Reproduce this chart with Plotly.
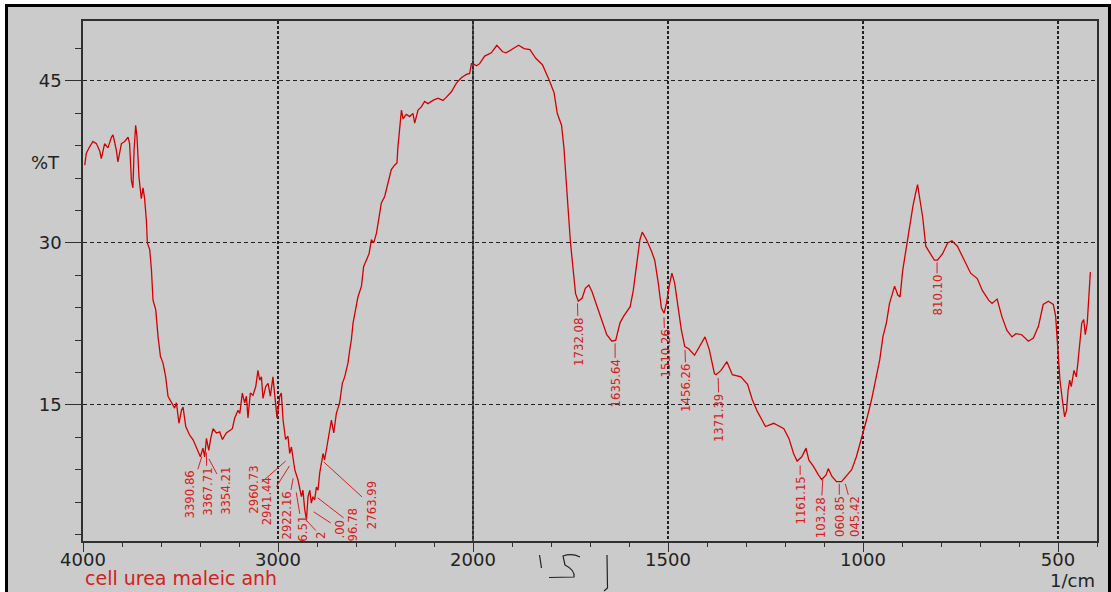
import plotly.graph_objects as go

# ---------------- data ----------------
wavenumber = [
    3991, 3983, 3966, 3949, 3931, 3914, 3906, 3889, 3872, 3854, 3846, 3829, 3821, 3803, 3786, 3769,
    3761, 3752, 3744, 3738, 3730, 3723, 3713, 3701, 3692, 3684, 3675, 3670, 3658, 3649, 3641, 3627,
    3615, 3603, 3590, 3576, 3564, 3547, 3530, 3521, 3508, 3495, 3487, 3473, 3453, 3436, 3418, 3398,
    3385, 3376, 3367, 3355, 3345, 3333, 3316, 3299, 3285, 3265, 3234, 3222, 3205, 3196, 3183, 3171,
    3162, 3154, 3142, 3128, 3114, 3103, 3094, 3085, 3077, 3063, 3051, 3039, 3026, 3017, 3005, 2991,
    2983, 2974, 2961, 2949, 2940, 2931, 2914, 2898, 2880, 2872, 2863, 2854, 2846, 2837, 2829, 2821,
    2812, 2803, 2795, 2786, 2777, 2769, 2761, 2752, 2738, 2726, 2714, 2701, 2684, 2670, 2658, 2641,
    2632, 2624, 2615, 2602, 2590, 2572, 2561, 2547, 2533, 2521, 2509, 2495, 2482, 2470, 2453, 2436,
    2419, 2402, 2390, 2385, 2376, 2367, 2359, 2342, 2325, 2308, 2299, 2282, 2265, 2248, 2231, 2205,
    2180, 2154, 2136, 2111, 2085, 2060, 2034, 2017, 2008, 2000,
    1991, 1983, 1970, 1953, 1939, 1924, 1915, 1902, 1883, 1869, 1854, 1839, 1822, 1805, 1792, 1784,
    1773, 1767, 1761, 1756, 1750, 1744, 1737, 1730, 1720, 1712, 1703, 1695, 1682, 1669, 1657, 1644,
    1634, 1623, 1614, 1597, 1589, 1580, 1572, 1566, 1555, 1542, 1534, 1525, 1517, 1510, 1504, 1497,
    1490, 1483, 1474, 1466, 1457, 1447, 1432, 1419, 1405, 1394, 1381, 1377, 1364, 1349, 1335, 1313,
    1296, 1284, 1271, 1250, 1229, 1203, 1190, 1178, 1169, 1157, 1146, 1139, 1127, 1114, 1106, 1095,
    1089, 1080, 1068, 1055, 1042, 1029, 1017, 1004, 991, 978, 966, 957, 949, 940, 932, 925,
    919, 911, 905, 898, 889, 881, 872, 864, 860, 854, 847, 839, 826, 817, 809, 796,
    783, 772, 758, 741, 724, 707, 694, 678, 669, 656, 644, 631, 618, 608, 593, 576,
    563, 550, 538, 525, 512, 506, 501, 495, 489, 483, 478, 474, 470, 466, 459, 453,
    449, 444, 439, 434, 430, 425, 421, 417,
]
transmittance = [
    37.2, 38.3, 38.9, 39.4, 39.2, 38.5, 37.8, 39.2, 38.8, 39.8, 40.0, 38.6, 37.5, 39.2, 39.4, 39.8,
    39.2, 35.8, 35.1, 38.6, 40.9, 39.8, 36.1, 34.1, 35.1, 34.1, 32.1, 30.0, 29.4, 27.5, 24.7, 23.8,
    21.3, 19.5, 18.9, 17.6, 15.8, 15.3, 14.7, 15.2, 13.3, 14.5, 14.8, 13.0, 12.2, 11.8, 11.1, 10.2,
    11.0, 10.2, 11.9, 10.8, 11.9, 12.8, 12.4, 12.5, 11.8, 12.4, 12.8, 13.8, 14.5, 14.2, 16.1, 15.2,
    15.8, 13.8, 16.1, 15.9, 16.7, 18.2, 17.3, 17.6, 15.6, 16.7, 17.0, 15.8, 17.6, 16.1, 13.8, 15.8,
    16.1, 13.6, 11.8, 12.1, 10.5, 11.1, 9.0, 8.1, 6.5, 7.1, 5.3, 4.4, 6.5, 7.1, 5.9, 6.5,
    6.2, 7.4, 7.1, 8.7, 9.9, 10.5, 9.9, 10.8, 12.4, 13.6, 12.4, 14.2, 15.2, 17.0, 17.6, 18.9,
    20.1, 21.0, 22.6, 23.8, 25.0, 26.0, 27.8, 28.4, 29.0, 30.3, 30.0, 30.9, 32.4, 33.7, 34.3, 35.5,
    36.8, 37.2, 37.4, 38.9, 40.5, 42.3, 41.5, 41.9, 41.7, 42.0, 41.1, 42.3, 42.6, 43.1, 42.9, 43.2,
    43.4, 43.2, 43.5, 44.0, 44.8, 45.3, 45.6, 45.7, 46.6, 46.6,
    46.4, 46.6, 47.3, 47.6, 48.3, 47.7, 47.6, 47.9, 48.3, 48.0, 47.9, 47.1, 46.5, 45.1, 43.9, 42.0,
    40.9, 38.9, 36.1, 33.1, 30.0, 27.8, 25.3, 24.6, 24.9, 25.8, 26.1, 25.5, 24.1, 22.6, 21.5, 20.9,
    21.0, 22.6, 23.2, 24.1, 25.6, 28.1, 30.3, 31.0, 30.3, 29.2, 28.4, 26.3, 24.0, 23.5, 24.4, 26.0,
    27.2, 26.3, 24.1, 22.0, 20.4, 20.2, 19.6, 20.4, 21.3, 20.1, 17.9, 17.8, 18.2, 19.0, 17.8, 17.6,
    16.9, 15.5, 14.4, 13.0, 13.3, 12.8, 11.9, 10.5, 9.8, 10.2, 11.0, 9.9, 9.3, 8.5, 8.1, 8.5,
    9.1, 8.4, 7.9, 7.9, 8.4, 9.0, 10.2, 11.8, 13.6, 15.5, 17.6, 19.2, 21.3, 22.6, 24.4, 25.3,
    26.0, 25.2, 25.0, 27.5, 29.7, 31.5, 33.4, 34.8, 35.4, 34.0, 32.4, 29.7, 29.0, 28.4, 28.4, 29.0,
    30.0, 30.2, 29.7, 28.4, 27.2, 26.7, 25.6, 24.7, 24.4, 24.8, 23.2, 21.9, 21.3, 21.6, 21.5, 20.9,
    21.2, 22.3, 24.3, 24.6, 24.3, 23.2, 20.1, 17.3, 15.5, 13.9, 14.5, 16.4, 17.3, 16.7, 18.2, 17.6,
    18.9, 20.7, 22.6, 22.9, 21.5, 22.6, 25.0, 27.3,
]

x_tick_labels = [4000, 3000, 2000, 1500, 1000, 500]
y_tick_labels = [15, 30, 45]

# peak labels: wavenumber, %T where the leader starts, text shown (clipped ones show only their visible end)
peak_wn = [3390.86, 3367.71, 3354.21, 2960.73, 2941.44, 2922.16, 2906.51, 2854.00, 2817.00, 2796.78, 2763.99,
           1732.08, 1635.64, 1510.26, 1456.26, 1371.39, 1161.15, 1103.28, 1060.85, 1045.42, 810.10]
peak_t = [10.2, 10.6, 10.0, 9.8, 9.35, 8.2, 6.9, 4.3, 5.1, 6.4, 9.7,
          24.4, 20.7, 23.1, 20.1, 17.5, 9.4, 8.1, 7.7, 7.7, 28.2]
peak_text = ["3390.86", "3367.71", "3354.21", "2960.73", "2941.44", "2922.16", "6.51", "2", ".00", "96.78", "2763.99",
             "1732.08", "1635.64", "1510.26", "1456.26", "1371.39", "1161.15", "103.28", "060.85", "045.42", "810.10"]
# label offsets (pixels) from leader start to text centre
peak_dx = [-12, 1, 17, -33, -22, -7, 6, 14, 26, 35, 47,
           1, 0, 1, 1, 1, 0, -2, 0, 9, 0]
peak_dy = [38, 39, 32, 29, 35, 37, 36, 15, 17, 27, 43,
           38, 40, 36, 38, 40, 35, 38, 33, 33, 33]


def to_axis(w):
    """Shimadzu-style scale: 4000-2000 compressed 2x relative to 2000-400."""
    return (4000 - w) / 2.0 if w >= 2000 else 1000 + (2000 - w)


RED = "#d40000"
LABEL_RED = "#d82020"
DARK = "#303030"
GRAY = "#cbcbcb"
FONT = "DejaVu Sans, Verdana, sans-serif"

fig = go.Figure()
fig.add_trace(go.Scatter(
    x=[to_axis(w) for w in wavenumber], y=transmittance,
    mode="lines", line=dict(color=RED, width=1.3), hoverinfo="skip", showlegend=False,
))

W, H = 1111, 592
ML, MR, MT, MB = 83, 14, 21, 51
PW, PH = W - ML - MR, H - MT - MB


def px(xp):
    return (xp - ML) / PW


def py(yp):
    return (H - MB - yp) / PH


annotations = []
for w, t, txt, dx, dy in zip(peak_wn, peak_t, peak_text, peak_dx, peak_dy):
    annotations.append(dict(
        x=to_axis(w), y=t, xref="x", yref="y", text=txt, textangle=-90,
        showarrow=True, arrowhead=0, arrowwidth=1, arrowcolor=LABEL_RED,
        ax=dx, ay=dy, standoff=0, startstandoff=0,
        font=dict(family="Liberation Sans Narrow, DejaVu Sans Condensed, Arial Narrow, sans-serif",
                  size=13, color=LABEL_RED),
    ))

annotations += [
    dict(x=px(45.5), y=py(162), xref="paper", yref="paper", text="%T", showarrow=False,
         xanchor="center", yanchor="middle",
         font=dict(family=FONT, size=18, color="#222")),
    dict(x=px(83), y=py(578), xref="paper", yref="paper", text="cell urea maleic anh", showarrow=False,
         xanchor="left", yanchor="middle",
         font=dict(family=FONT, size=19, color="#d42020")),
    dict(x=px(1097), y=py(580), xref="paper", yref="paper", text="1/cm", showarrow=False,
         xanchor="right", yanchor="middle",
         font=dict(family=FONT, size=18, color="#222")),
]

shapes = [
    # white page edge and black frame
    dict(type="rect", xref="paper", yref="paper", x0=px(-5), x1=px(W + 5), y0=py(H + 5), y1=py(-5),
         fillcolor="white", line=dict(width=0), layer="below"),
    dict(type="rect", xref="paper", yref="paper", x0=px(6.5), x1=px(1109.5), y0=py(H + 8), y1=py(5.5),
         fillcolor=GRAY, line=dict(color="black", width=3), layer="below"),
    # solid line at the scale change (2000 1/cm)
    dict(type="line", xref="x", yref="paper", x0=to_axis(2000), x1=to_axis(2000), y0=0, y1=1,
         line=dict(color=DARK, width=1.5)),
    # hand-written marks under the axis
    dict(type="path", xref="paper", yref="paper",
         path=f"M {px(539.5)},{py(555)} L {px(541.5)},{py(568)}",
         line=dict(color="#222", width=1.2)),
    dict(type="path", xref="paper", yref="paper",
         path=(f"M {px(580)},{py(557)} Q {px(572)},{py(553)} {px(563)},{py(556)} "
               f"L {px(565)},{py(565)} Q {px(575)},{py(570)} {px(574)},{py(577)} "
               f"L {px(549)},{py(577.5)}"),
         line=dict(color="#222", width=1.2)),
    dict(type="path", xref="paper", yref="paper",
         path=f"M {px(607)},{py(555)} L {px(607.5)},{py(588)} L {px(604)},{py(591)}",
         line=dict(color="#222", width=1.2)),
]

fig.update_layout(
    width=W, height=H,
    margin=dict(l=ML, r=MR, t=MT, b=MB),
    paper_bgcolor=GRAY, plot_bgcolor=GRAY,
    showlegend=False,
    annotations=annotations,
    shapes=shapes,
    xaxis=dict(
        range=[0, to_axis(400)],
        tickmode="array",
        tickvals=[to_axis(v) for v in x_tick_labels],
        ticktext=[str(v) for v in x_tick_labels],
        ticks="outside", ticklen=9, tickwidth=1, tickcolor=DARK,
        ticklabelstandoff=-7,
        minor=dict(tickmode="linear", tick0=0, dtick=100, ticks="outside", ticklen=4,
                   tickcolor=DARK, showgrid=False),
        showgrid=True, gridcolor="#222", gridwidth=1.5, griddash="3px,2px",
        zeroline=False,
        showline=True, linecolor=DARK, linewidth=1.5, mirror=True,
        tickfont=dict(family=FONT, size=18, color="#222"),
    ),
    yaxis=dict(
        range=[2.4, 50.55],
        tickmode="array",
        tickvals=y_tick_labels,
        ticktext=[str(v) for v in y_tick_labels],
        ticks="outside", ticklen=16, tickwidth=1, tickcolor=DARK,
        minor=dict(tickmode="linear", tick0=0, dtick=3, ticks="outside", ticklen=6,
                   tickcolor=DARK, showgrid=False),
        showgrid=True, gridcolor="#222", gridwidth=1, griddash="4px,3px",
        zeroline=False,
        showline=True, linecolor=DARK, linewidth=1.5, mirror=True,
        tickfont=dict(family=FONT, size=18, color="#222"),
    ),
)

fig.write_html("out.html")
